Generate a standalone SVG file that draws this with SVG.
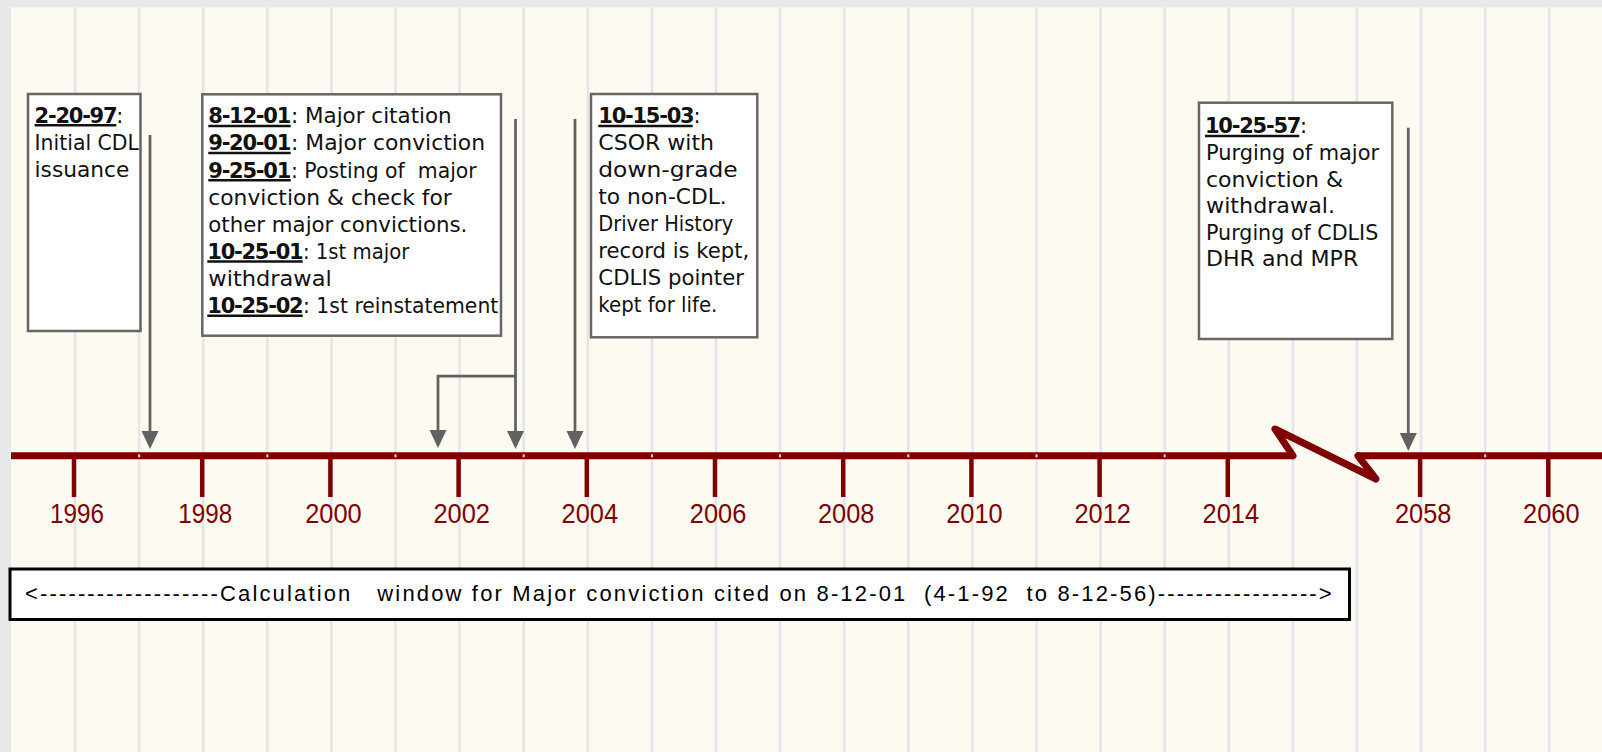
<svg xmlns="http://www.w3.org/2000/svg" width="1602" height="752" viewBox="0 0 1602 752">
<style>
.grid{stroke:#e5e5e9;stroke-width:2.5}
.axis{stroke:#800000;stroke-width:7;fill:none}
.zig{stroke:#800000;stroke-width:7;fill:none;stroke-linejoin:round;stroke-linecap:round}
.tick{stroke:#800000;stroke-width:4.5}
.year{font-family:"Liberation Sans",Arial,sans-serif;font-size:27px;fill:#800000}
.box{fill:#fff;stroke:#666;stroke-width:2.5}
.t{font-family:"DejaVu Sans",sans-serif;font-size:21px;fill:#111;white-space:pre}
.d{font-weight:bold;letter-spacing:-1.25px}
.ul{stroke:#111;stroke-width:2.5}
.conn{stroke:#616161;stroke-width:2.75;fill:none;marker-end:url(#head)}
.calc{fill:#fff;stroke:#000;stroke-width:3}
.ct{font-family:"Liberation Sans",Arial,sans-serif;font-size:22px;fill:#000;white-space:pre}
</style>
<defs>
<marker id="head" markerUnits="userSpaceOnUse" markerWidth="18" markerHeight="18" viewBox="0 0 18 18" refX="8" refY="9" orient="auto">
<path d="M0,0.5 L18,9 L0,17.5 z" fill="#616161"/>
</marker>
</defs>

<!-- page background -->
<rect x="0" y="0" width="1602" height="752" fill="#e8e8e8"/>
<rect x="11" y="7.5" width="1591" height="744.5" fill="#fdfaf2"/>

<!-- vertical grid -->
<g id="grid" class="grid">
<line x1="75" y1="7.5" x2="75" y2="752"/>
<line x1="139.1" y1="7.5" x2="139.1" y2="752"/>
<line x1="203.2" y1="7.5" x2="203.2" y2="752"/>
<line x1="267.3" y1="7.5" x2="267.3" y2="752"/>
<line x1="331.4" y1="7.5" x2="331.4" y2="752"/>
<line x1="395.5" y1="7.5" x2="395.5" y2="752"/>
<line x1="459.6" y1="7.5" x2="459.6" y2="752"/>
<line x1="523.7" y1="7.5" x2="523.7" y2="752"/>
<line x1="587.8" y1="7.5" x2="587.8" y2="752"/>
<line x1="651.9" y1="7.5" x2="651.9" y2="752"/>
<line x1="716" y1="7.5" x2="716" y2="752"/>
<line x1="780.1" y1="7.5" x2="780.1" y2="752"/>
<line x1="844.2" y1="7.5" x2="844.2" y2="752"/>
<line x1="908.3" y1="7.5" x2="908.3" y2="752"/>
<line x1="972.4" y1="7.5" x2="972.4" y2="752"/>
<line x1="1036.5" y1="7.5" x2="1036.5" y2="752"/>
<line x1="1100.6" y1="7.5" x2="1100.6" y2="752"/>
<line x1="1164.7" y1="7.5" x2="1164.7" y2="752"/>
<line x1="1228.8" y1="7.5" x2="1228.8" y2="752"/>
<line x1="1292.9" y1="7.5" x2="1292.9" y2="752"/>
<line x1="1357" y1="7.5" x2="1357" y2="752"/>
<line x1="1421.1" y1="7.5" x2="1421.1" y2="752"/>
<line x1="1485.2" y1="7.5" x2="1485.2" y2="752"/>
<line x1="1549.3" y1="7.5" x2="1549.3" y2="752"/>
</g>

<!-- time axis with break -->
<g id="timeline">
<line class="axis" x1="11" y1="455.8" x2="1293" y2="455.8"/>
<line x1="1293" y1="455.3" x2="1358" y2="455.3" stroke="#fff" stroke-width="2"/>
<polyline class="zig" points="1293,455.8 1275,429 1376,479 1358,455.8"/>
<line class="axis" x1="1358" y1="455.8" x2="1602" y2="455.8"/>
<g fill="#e2d8d8">
<rect x="138.1" y="454.3" width="2" height="3"/>
<rect x="266.3" y="454.3" width="2" height="3"/>
<rect x="394.5" y="454.3" width="2" height="3"/>
<rect x="522.7" y="454.3" width="2" height="3"/>
<rect x="650.9" y="454.3" width="2" height="3"/>
<rect x="779.1" y="454.3" width="2" height="3"/>
<rect x="907.3" y="454.3" width="2" height="3"/>
<rect x="1035.5" y="454.3" width="2" height="3"/>
<rect x="1163.7" y="454.3" width="2" height="3"/>
<rect x="1484.2" y="454.3" width="2" height="3"/>
</g>
<g class="tick">
<line x1="74" y1="456" x2="74" y2="497"/>
<line x1="202.2" y1="456" x2="202.2" y2="497"/>
<line x1="330.4" y1="456" x2="330.4" y2="497"/>
<line x1="458.6" y1="456" x2="458.6" y2="497"/>
<line x1="586.8" y1="456" x2="586.8" y2="497"/>
<line x1="715" y1="456" x2="715" y2="497"/>
<line x1="843.2" y1="456" x2="843.2" y2="497"/>
<line x1="971.4" y1="456" x2="971.4" y2="497"/>
<line x1="1099.6" y1="456" x2="1099.6" y2="497"/>
<line x1="1227.8" y1="456" x2="1227.8" y2="497"/>
<line x1="1420.1" y1="456" x2="1420.1" y2="497"/>
<line x1="1548.3" y1="456" x2="1548.3" y2="497"/>
</g>
<g class="year">
<text x="50" y="522.7" textLength="54" lengthAdjust="spacingAndGlyphs">1996</text>
<text x="178.2" y="522.7" textLength="54" lengthAdjust="spacingAndGlyphs">1998</text>
<text x="305.2" y="522.7" textLength="56.5" lengthAdjust="spacingAndGlyphs">2000</text>
<text x="433.4" y="522.7" textLength="56.5" lengthAdjust="spacingAndGlyphs">2002</text>
<text x="561.6" y="522.7" textLength="56.5" lengthAdjust="spacingAndGlyphs">2004</text>
<text x="689.8" y="522.7" textLength="56.5" lengthAdjust="spacingAndGlyphs">2006</text>
<text x="818" y="522.7" textLength="56.5" lengthAdjust="spacingAndGlyphs">2008</text>
<text x="946.2" y="522.7" textLength="56.5" lengthAdjust="spacingAndGlyphs">2010</text>
<text x="1074.4" y="522.7" textLength="56.5" lengthAdjust="spacingAndGlyphs">2012</text>
<text x="1202.6" y="522.7" textLength="56.5" lengthAdjust="spacingAndGlyphs">2014</text>
<text x="1394.9" y="522.7" textLength="56.5" lengthAdjust="spacingAndGlyphs">2058</text>
<text x="1523.1" y="522.7" textLength="56.5" lengthAdjust="spacingAndGlyphs">2060</text>
</g>
</g>

<!-- event: initial issuance -->
<g id="event-issuance">
<rect class="box" x="28" y="94" width="112.5" height="237"/>
<text class="t" x="34.6" y="122.5"><tspan class="d">2-20-97</tspan><tspan>:</tspan></text>
<line class="ul" x1="34.6" y1="125.2" x2="116.3" y2="125.2"/>
<text class="t" x="34.6" y="149.5" textLength="104.4" lengthAdjust="spacingAndGlyphs">Initial CDL</text>
<text class="t" x="34.6" y="176.5" textLength="94.7" lengthAdjust="spacingAndGlyphs">issuance</text>
</g>

<!-- event: citation, conviction, withdrawal, reinstatement -->
<g id="event-conviction">
<rect class="box" x="202.3" y="94.3" width="298.7" height="241.4"/>
<text class="t" y="123.3"><tspan class="d" x="208.3">8-12-01</tspan><tspan x="291" textLength="160.7" lengthAdjust="spacingAndGlyphs">: Major citation</tspan></text>
<text class="t" y="150.4"><tspan class="d" x="208.3">9-20-01</tspan><tspan x="291" textLength="194" lengthAdjust="spacingAndGlyphs">: Major conviction</tspan></text>
<text class="t" y="177.5"><tspan class="d" x="208.3">9-25-01</tspan><tspan x="291" textLength="185.7" lengthAdjust="spacingAndGlyphs">: Posting of  major</tspan></text>
<text class="t" x="208.3" y="204.6" textLength="243.4" lengthAdjust="spacingAndGlyphs">conviction &amp; check for</text>
<text class="t" x="208.3" y="231.7" textLength="259" lengthAdjust="spacingAndGlyphs">other major convictions.</text>
<text class="t" y="258.8"><tspan class="d" x="207.3">10-25-01</tspan><tspan x="303" textLength="106.3" lengthAdjust="spacingAndGlyphs">: 1st major</tspan></text>
<text class="t" x="208.3" y="285.9" textLength="123.4" lengthAdjust="spacingAndGlyphs">withdrawal</text>
<text class="t" y="313"><tspan class="d" x="207.3">10-25-02</tspan><tspan x="303" textLength="195.3" lengthAdjust="spacingAndGlyphs">: 1st reinstatement</tspan></text>
<g class="ul">
<line x1="208.3" y1="126" x2="290.7" y2="126"/>
<line x1="208.3" y1="153.1" x2="290.7" y2="153.1"/>
<line x1="208.3" y1="180.2" x2="290.7" y2="180.2"/>
<line x1="207.3" y1="261.5" x2="302.7" y2="261.5"/>
<line x1="207.3" y1="315.7" x2="302.7" y2="315.7"/>
</g>
</g>

<!-- event: CSOR down-grade -->
<g id="event-csor">
<rect class="box" x="591" y="94" width="166.3" height="243.3"/>
<text class="t" x="598.3" y="123.3"><tspan class="d">10-15-03</tspan><tspan>:</tspan></text>
<line class="ul" x1="598.3" y1="126" x2="692.7" y2="126"/>
<text class="t" x="598.3" y="150.2" textLength="115.7" lengthAdjust="spacingAndGlyphs">CSOR with</text>
<text class="t" x="598.3" y="177.1" textLength="139.4" lengthAdjust="spacingAndGlyphs">down-grade</text>
<text class="t" x="598.3" y="204" textLength="128.4" lengthAdjust="spacingAndGlyphs">to non-CDL.</text>
<text class="t" x="598.3" y="230.9" textLength="135" lengthAdjust="spacingAndGlyphs">Driver History</text>
<text class="t" x="598.3" y="257.8" textLength="151" lengthAdjust="spacingAndGlyphs">record is kept,</text>
<text class="t" x="598.3" y="284.7" textLength="145.7" lengthAdjust="spacingAndGlyphs">CDLIS pointer</text>
<text class="t" x="598.3" y="311.6" textLength="119" lengthAdjust="spacingAndGlyphs">kept for life.</text>
</g>

<!-- event: purging -->
<g id="event-purge">
<rect class="box" x="1199" y="102.7" width="193.3" height="236.3"/>
<text class="t" x="1205" y="133.3"><tspan class="d">10-25-57</tspan><tspan>:</tspan></text>
<line class="ul" x1="1205" y1="136" x2="1299.3" y2="136"/>
<text class="t" x="1206" y="159.9" textLength="173" lengthAdjust="spacingAndGlyphs">Purging of major</text>
<text class="t" x="1206" y="186.5" textLength="137.3" lengthAdjust="spacingAndGlyphs">conviction &amp;</text>
<text class="t" x="1206" y="213.1" textLength="129" lengthAdjust="spacingAndGlyphs">withdrawal.</text>
<text class="t" x="1206" y="239.7" textLength="172.3" lengthAdjust="spacingAndGlyphs">Purging of CDLIS</text>
<text class="t" x="1206" y="266.3" textLength="152.3" lengthAdjust="spacingAndGlyphs">DHR and MPR</text>
</g>

<!-- pointers from events to the axis -->
<g id="connectors" class="conn">
<path d="M150,135 V439"/>
<path d="M515.5,119 V439"/>
<path d="M515.5,376 H438 V438"/>
<path d="M575,119 V439"/>
<path d="M1408.3,127.7 V441"/>
</g>

<!-- calculation window bar -->
<g id="calc-window">
<rect class="calc" x="10" y="569" width="1339.5" height="50.5"/>
<text class="ct" x="25" y="600.5" textLength="1306.7" lengthAdjust="spacing">&lt;-------------------Calculation   window for Major conviction cited on 8-12-01  (4-1-92  to 8-12-56)-----------------&gt;</text>
</g>
</svg>
